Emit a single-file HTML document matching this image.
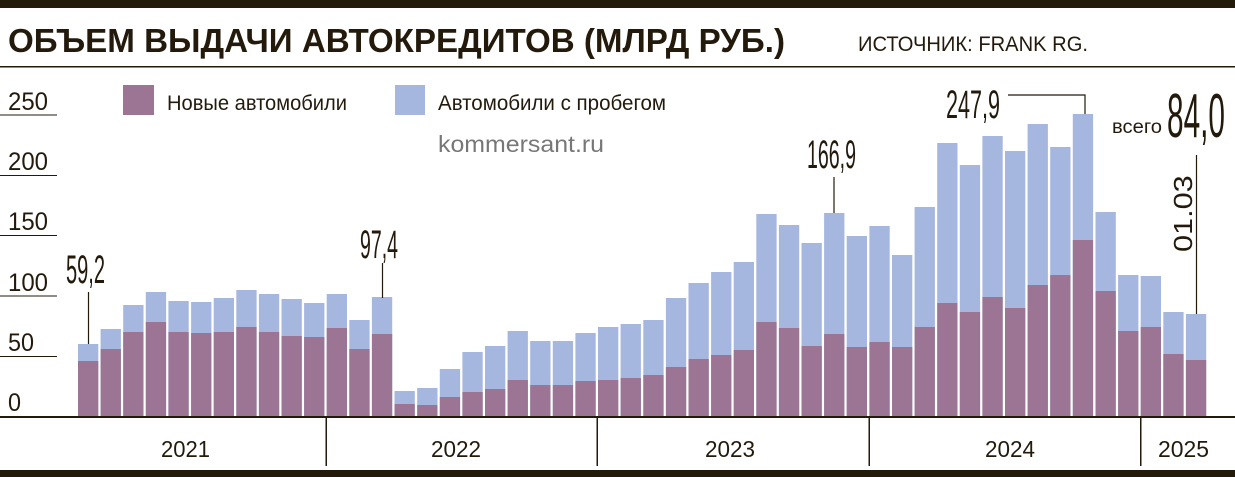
<!DOCTYPE html>
<html><head><meta charset="utf-8"><style>html,body{margin:0;padding:0;background:#fff}svg{display:block}</style></head>
<body>
<svg width="1235" height="477" viewBox="0 0 1235 477" xmlns="http://www.w3.org/2000/svg" font-family="'Liberation Sans', sans-serif">
<rect x="0" y="0" width="1235" height="8" fill="#231a0c"/>
<text x="8" y="52" font-size="33" font-weight="bold" fill="#231a0c" textLength="777" lengthAdjust="spacingAndGlyphs">ОБЪЕМ ВЫДАЧИ АВТОКРЕДИТОВ (МЛРД РУБ.)</text>
<text x="858" y="51" font-size="21" fill="#231a0c" textLength="230" lengthAdjust="spacingAndGlyphs">ИСТОЧНИК: FRANK RG.</text>
<rect x="0" y="66" width="1235" height="1.5" fill="#231a0c"/>
<g fill="#231a0c" font-size="25">
<text x="8" y="110" textLength="40" lengthAdjust="spacingAndGlyphs">250</text>
<text x="8" y="170" textLength="40" lengthAdjust="spacingAndGlyphs">200</text>
<text x="8" y="230" textLength="40" lengthAdjust="spacingAndGlyphs">150</text>
<text x="8" y="291" textLength="40" lengthAdjust="spacingAndGlyphs">100</text>
<text x="8" y="351" textLength="26" lengthAdjust="spacingAndGlyphs">50</text>
<text x="8" y="411" textLength="13" lengthAdjust="spacingAndGlyphs">0</text>
</g>
<g fill="#231a0c">
<rect x="0" y="114.5" width="57" height="1"/><rect x="0" y="175" width="57" height="1"/><rect x="0" y="235" width="57" height="1"/><rect x="0" y="295.5" width="57" height="1"/><rect x="0" y="356" width="57" height="1"/>
</g>
<rect x="123" y="85" width="31" height="30" fill="#9c7595"/>
<text x="167" y="110" font-size="21" fill="#231a0c" textLength="180" lengthAdjust="spacingAndGlyphs">Новые автомобили</text>
<rect x="395" y="85" width="30" height="30" fill="#a5b6df"/>
<text x="438" y="110" font-size="21" fill="#231a0c" textLength="228" lengthAdjust="spacingAndGlyphs">Автомобили с пробегом</text>
<text x="438" y="152" font-size="23" fill="#777" textLength="166" lengthAdjust="spacingAndGlyphs">kommersant.ru</text>
<g fill="#a5b6df">
<rect x="78.0" y="344" width="20.3" height="73"/>
<rect x="100.6" y="329" width="20.3" height="88"/>
<rect x="123.2" y="305" width="20.3" height="112"/>
<rect x="145.8" y="292" width="20.3" height="125"/>
<rect x="168.4" y="301" width="20.3" height="116"/>
<rect x="191.1" y="302" width="20.3" height="115"/>
<rect x="213.7" y="298" width="20.3" height="119"/>
<rect x="236.3" y="290" width="20.3" height="127"/>
<rect x="258.9" y="294" width="20.3" height="123"/>
<rect x="281.5" y="299" width="20.3" height="118"/>
<rect x="304.1" y="303" width="20.3" height="114"/>
<rect x="326.7" y="294" width="20.3" height="123"/>
<rect x="349.3" y="320" width="20.3" height="97"/>
<rect x="371.9" y="297" width="20.3" height="120"/>
<rect x="394.5" y="391" width="20.3" height="26"/>
<rect x="417.2" y="388" width="20.3" height="29"/>
<rect x="439.8" y="369" width="20.3" height="48"/>
<rect x="462.4" y="352" width="20.3" height="65"/>
<rect x="485.0" y="346" width="20.3" height="71"/>
<rect x="507.6" y="331" width="20.3" height="86"/>
<rect x="530.2" y="341" width="20.3" height="76"/>
<rect x="552.8" y="341" width="20.3" height="76"/>
<rect x="575.4" y="333" width="20.3" height="84"/>
<rect x="598.0" y="327" width="20.3" height="90"/>
<rect x="620.6" y="324" width="20.3" height="93"/>
<rect x="643.3" y="320" width="20.3" height="97"/>
<rect x="665.9" y="298" width="20.3" height="119"/>
<rect x="688.5" y="283" width="20.3" height="134"/>
<rect x="711.1" y="272" width="20.3" height="145"/>
<rect x="733.7" y="262" width="20.3" height="155"/>
<rect x="756.3" y="214" width="20.3" height="203"/>
<rect x="778.9" y="225" width="20.3" height="192"/>
<rect x="801.5" y="243" width="20.3" height="174"/>
<rect x="824.1" y="213" width="20.3" height="204"/>
<rect x="846.7" y="236" width="20.3" height="181"/>
<rect x="869.4" y="226" width="20.3" height="191"/>
<rect x="892.0" y="255" width="20.3" height="162"/>
<rect x="914.6" y="207" width="20.3" height="210"/>
<rect x="937.2" y="143" width="20.3" height="274"/>
<rect x="959.8" y="165" width="20.3" height="252"/>
<rect x="982.4" y="136" width="20.3" height="281"/>
<rect x="1005.0" y="151" width="20.3" height="266"/>
<rect x="1027.6" y="124" width="20.3" height="293"/>
<rect x="1050.2" y="147" width="20.3" height="270"/>
<rect x="1072.8" y="114" width="20.3" height="303"/>
<rect x="1095.5" y="212" width="20.3" height="205"/>
<rect x="1118.1" y="275" width="20.3" height="142"/>
<rect x="1140.7" y="276" width="20.3" height="141"/>
<rect x="1163.3" y="312" width="20.3" height="105"/>
<rect x="1185.9" y="314" width="20.3" height="103"/>
</g>
<g fill="#9c7595">
<rect x="78.0" y="361" width="20.3" height="56"/>
<rect x="100.6" y="349" width="20.3" height="68"/>
<rect x="123.2" y="332" width="20.3" height="85"/>
<rect x="145.8" y="322" width="20.3" height="95"/>
<rect x="168.4" y="332" width="20.3" height="85"/>
<rect x="191.1" y="333" width="20.3" height="84"/>
<rect x="213.7" y="332" width="20.3" height="85"/>
<rect x="236.3" y="327" width="20.3" height="90"/>
<rect x="258.9" y="332" width="20.3" height="85"/>
<rect x="281.5" y="336" width="20.3" height="81"/>
<rect x="304.1" y="337" width="20.3" height="80"/>
<rect x="326.7" y="328" width="20.3" height="89"/>
<rect x="349.3" y="349" width="20.3" height="68"/>
<rect x="371.9" y="334" width="20.3" height="83"/>
<rect x="394.5" y="404" width="20.3" height="13"/>
<rect x="417.2" y="405" width="20.3" height="12"/>
<rect x="439.8" y="397" width="20.3" height="20"/>
<rect x="462.4" y="392" width="20.3" height="25"/>
<rect x="485.0" y="389" width="20.3" height="28"/>
<rect x="507.6" y="380" width="20.3" height="37"/>
<rect x="530.2" y="385" width="20.3" height="32"/>
<rect x="552.8" y="385" width="20.3" height="32"/>
<rect x="575.4" y="381" width="20.3" height="36"/>
<rect x="598.0" y="380" width="20.3" height="37"/>
<rect x="620.6" y="378" width="20.3" height="39"/>
<rect x="643.3" y="375" width="20.3" height="42"/>
<rect x="665.9" y="367" width="20.3" height="50"/>
<rect x="688.5" y="359" width="20.3" height="58"/>
<rect x="711.1" y="355" width="20.3" height="62"/>
<rect x="733.7" y="350" width="20.3" height="67"/>
<rect x="756.3" y="322" width="20.3" height="95"/>
<rect x="778.9" y="328" width="20.3" height="89"/>
<rect x="801.5" y="346" width="20.3" height="71"/>
<rect x="824.1" y="334" width="20.3" height="83"/>
<rect x="846.7" y="347" width="20.3" height="70"/>
<rect x="869.4" y="342" width="20.3" height="75"/>
<rect x="892.0" y="347" width="20.3" height="70"/>
<rect x="914.6" y="327" width="20.3" height="90"/>
<rect x="937.2" y="303" width="20.3" height="114"/>
<rect x="959.8" y="312" width="20.3" height="105"/>
<rect x="982.4" y="297" width="20.3" height="120"/>
<rect x="1005.0" y="308" width="20.3" height="109"/>
<rect x="1027.6" y="285" width="20.3" height="132"/>
<rect x="1050.2" y="275" width="20.3" height="142"/>
<rect x="1072.8" y="240" width="20.3" height="177"/>
<rect x="1095.5" y="291" width="20.3" height="126"/>
<rect x="1118.1" y="331" width="20.3" height="86"/>
<rect x="1140.7" y="327" width="20.3" height="90"/>
<rect x="1163.3" y="354" width="20.3" height="63"/>
<rect x="1185.9" y="360" width="20.3" height="57"/>
</g>
<rect x="0" y="416" width="1235" height="2" fill="#231a0c"/>
<g fill="#231a0c"><rect x="325.5" y="417" width="1.5" height="49"/><rect x="596.5" y="417" width="1.5" height="49"/><rect x="868.5" y="417" width="1.5" height="49"/><rect x="1140" y="417" width="1.5" height="49"/></g>
<g font-size="23" fill="#231a0c">
<text x="161" y="457" textLength="49" lengthAdjust="spacingAndGlyphs">2021</text>
<text x="431" y="457" textLength="50" lengthAdjust="spacingAndGlyphs">2022</text>
<text x="705" y="457" textLength="50" lengthAdjust="spacingAndGlyphs">2023</text>
<text x="985" y="457" textLength="50" lengthAdjust="spacingAndGlyphs">2024</text>
<text x="1158" y="457" textLength="51" lengthAdjust="spacingAndGlyphs">2025</text>
</g>
<rect x="0" y="470" width="1235" height="7" fill="#231a0c"/>
<g fill="#231a0c" font-size="40">
<text x="66" y="283" textLength="39" lengthAdjust="spacingAndGlyphs">59,2</text>
<text x="360" y="258" textLength="38" lengthAdjust="spacingAndGlyphs">97,4</text>
<text x="807" y="168" textLength="49" lengthAdjust="spacingAndGlyphs">166,9</text>
<text x="946" y="118" textLength="54" lengthAdjust="spacingAndGlyphs">247,9</text>
<text x="1112" y="133" font-size="19" textLength="50" lengthAdjust="spacingAndGlyphs">всего</text>
<text x="1167" y="137" font-size="62" textLength="58" lengthAdjust="spacingAndGlyphs">84,0</text>
<text transform="translate(1192,252) rotate(-90) scale(1.18,1)" font-size="26">01.03</text>
</g>
<g stroke="#231a0c" stroke-width="1.2" fill="none">
<path d="M88.5 292V344"/><path d="M382.5 263V298"/><path d="M834 177V213"/><path d="M1008 95H1085V114"/><path d="M1196.5 155V314"/>
</g>
</svg>
</body></html>
